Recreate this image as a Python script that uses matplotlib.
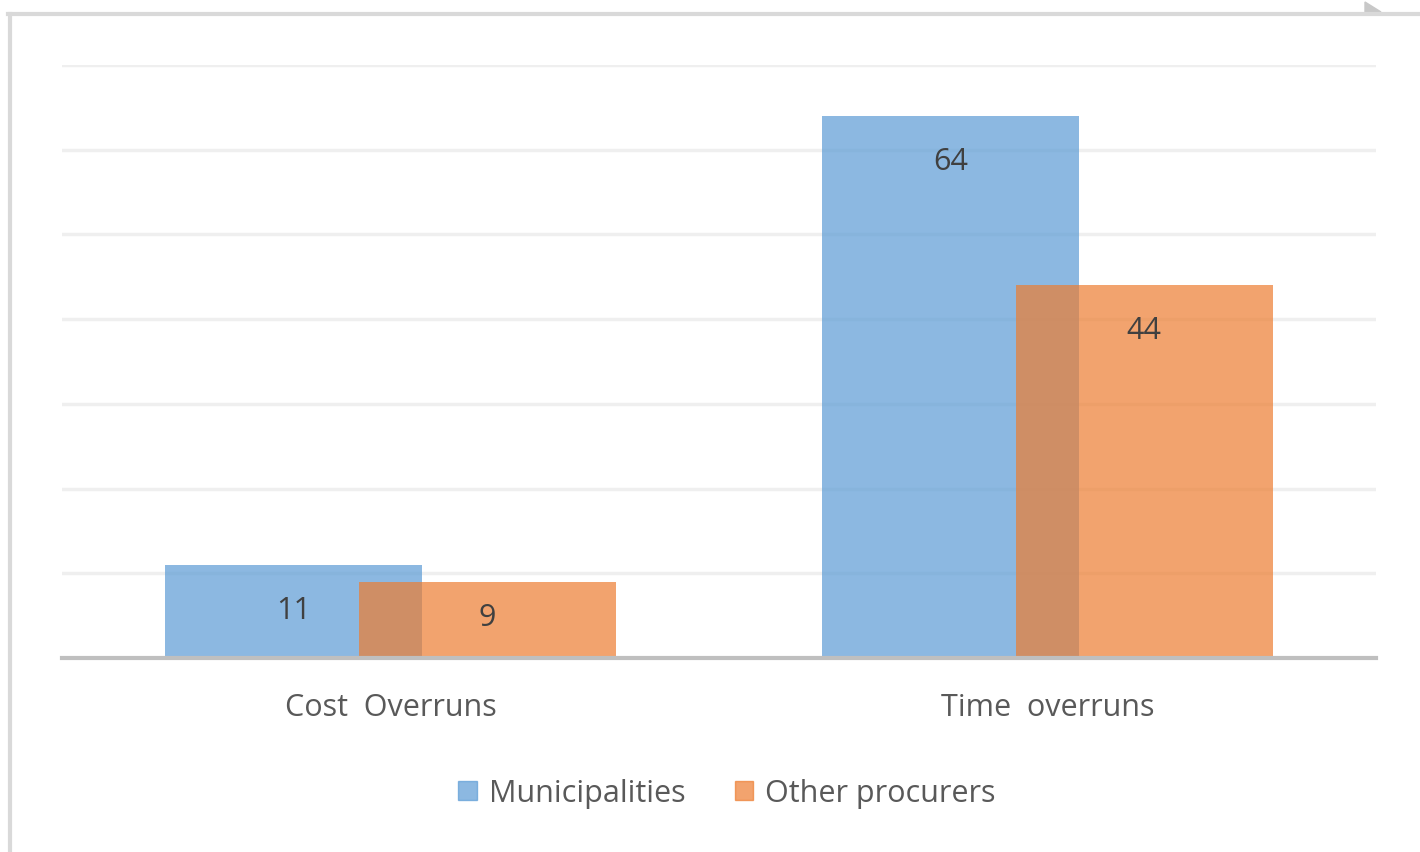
import matplotlib.pyplot as plt
import numpy as np
from matplotlib.lines import Line2D
from matplotlib.patches import Rectangle, Polygon

plt.rcParams['font.family'] = ['Open Sans', 'DejaVu Sans']

categories = ['Cost  Overruns', 'Time  overruns']
series_names = ['Municipalities', 'Other procurers']
municipalities = [11, 64]
other_procurers = [9, 44]
colors = ['#5B9BD5', '#ED7D31']

fig = plt.figure(figsize=(14.2, 8.53), dpi=100)
ax = fig.add_axes([62 / 1420, 1 - 659 / 853, 1314 / 1420, 593 / 853])

x = np.arange(len(categories))
width = 0.391
offset = 0.147

for vals, shift, col, name in zip([municipalities, other_procurers], [-offset, offset],
                                  colors, series_names):
    bars = ax.bar(x + shift, vals, width, color=col, alpha=0.7, label=name, zorder=3)
    for b, v in zip(bars, vals):
        # inside-end label, kept above the baseline on short bars
        ax.text(b.get_x() + b.get_width() / 2, max(v - 5.3, 4.85), str(v),
                ha='center', va='center', fontsize=22, color='#404040', zorder=4)

ax.set_xlim(-0.5, 1.5)
ax.set_ylim(0, 70)
ax.set_yticks(np.arange(0, 71, 10))
ax.yaxis.grid(True, color='#EFEFEF', linewidth=2.5, zorder=0)
ax.tick_params(axis='y', left=False, labelleft=False)
ax.tick_params(axis='x', bottom=False, pad=21, labelsize=22, labelcolor='#595959')
ax.set_xticks(x)
ax.set_xticklabels(categories)
for s in ['top', 'right', 'left']:
    ax.spines[s].set_visible(False)
ax.spines['bottom'].set_color('#BFBFBF')
ax.spines['bottom'].set_linewidth(3)
ax.spines['bottom'].set_zorder(5)

handles = [Rectangle((0, 0), 1, 1, color=c, alpha=0.7) for c in colors]
fig.legend(handles, series_names, loc='center', bbox_to_anchor=(727 / 1420, 1 - 794 / 853),
           ncol=2, frameon=False, fontsize=22, labelcolor='#595959',
           handlelength=0.6, handleheight=0.6, handletextpad=0.4, columnspacing=1.6)

# outer frame (left and top edges) and page curl in the corner
fig.add_artist(Line2D([9.5 / 1420, 9.5 / 1420], [0, 1 - 14.5 / 853], transform=fig.transFigure,
                      color='#D9D9D9', linewidth=3))
fig.add_artist(Line2D([8 / 1420, 1], [1 - 14.5 / 853, 1 - 14.5 / 853], transform=fig.transFigure,
                      color='#D9D9D9', linewidth=3))
fig.add_artist(Polygon([[1365 / 1420, 1 - 13 / 853], [1365 / 1420, 1 - 3 / 853],
                        [1381 / 1420, 1 - 13 / 853]], closed=True, transform=fig.transFigure,
                       color='#C8C8C8'))

plt.savefig('out.png', dpi=100, facecolor='white')
